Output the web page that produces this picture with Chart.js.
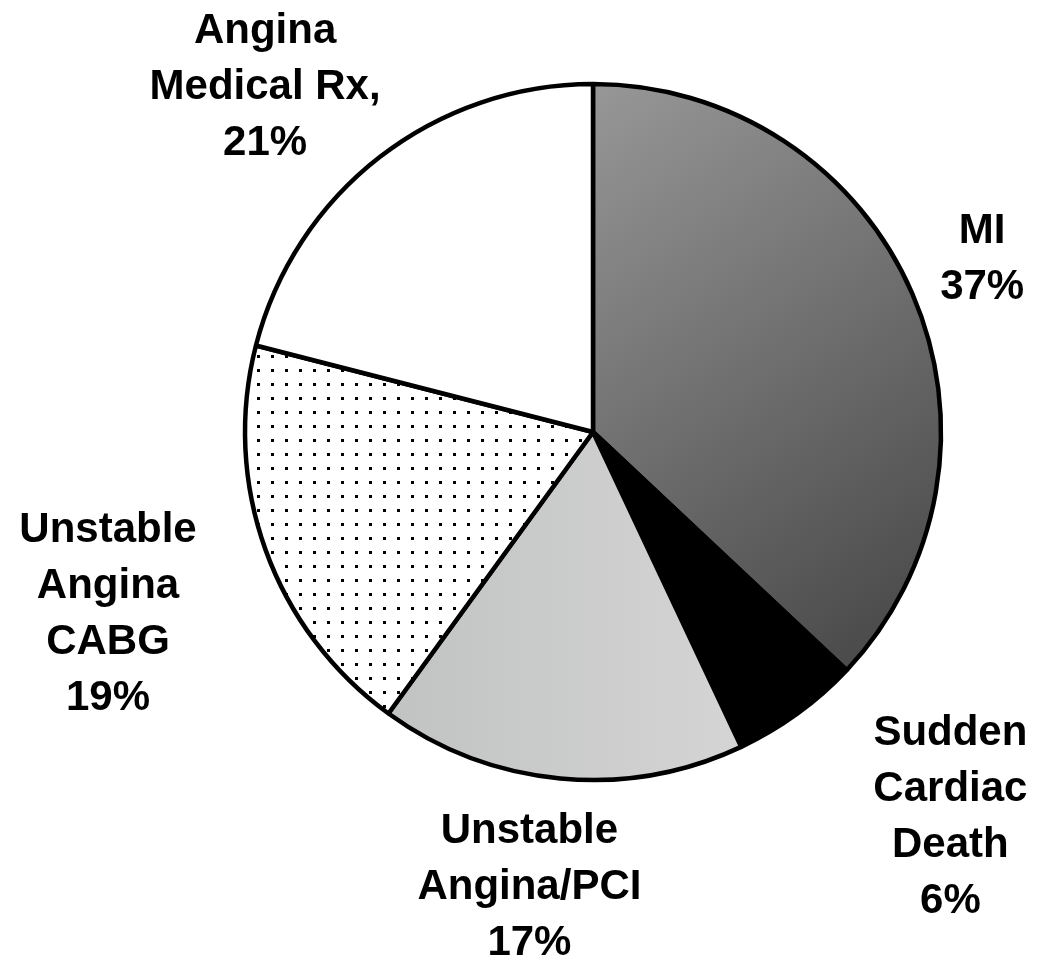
<!DOCTYPE html>
<html>
<head>
<meta charset="utf-8">
<script src="https://cdn.jsdelivr.net/npm/chart.js@4"></script>
<style>
  body { margin: 0; background: #fff; }
  #wrap { width: 1039px; height: 966px; position: relative; }
</style>
</head>
<body>
<div id="wrap"><canvas id="pie"></canvas></div>
<script>
const categories = [
    ['MI'],
    ['Sudden', 'Cardiac', 'Death'],
    ['Unstable', 'Angina/PCI'],
    ['Unstable', 'Angina', 'CABG'],
    ['Angina', 'Medical Rx,']
];
const percents = [37, 6, 17, 19, 21];

// where each label sits: distance in pie radii and angle (deg from 12 o'clock)
const labelSpots = [
    [1.227, 65.7],
    [1.503, 136.9],
    [1.313, 188],
    [1.486, 249.7],
    [1.374, 316.7]
];

// dotted fill for the CABG slice
function dotPattern() {
    const c = document.createElement('canvas');
    c.width = 14; c.height = 14;
    const g = c.getContext('2d');
    g.fillStyle = '#fff';
    g.fillRect(0, 0, 14, 14);
    g.fillStyle = '#000';
    g.fillRect(5, 5, 3, 3);
    return g.createPattern(c, 'repeat');
}

const dots = dotPattern();

function sliceFill(context) {
    const chart = context.chart;
    const area = chart.chartArea;
    if (!area) return '#999';
    const cx = (area.left + area.right) / 2;
    const cy = (area.top + area.bottom) / 2;
    const r = 348;
    const g = chart.ctx;
    switch (context.dataIndex) {
        case 0: {
            const lg = g.createLinearGradient(cx, cy - r, cx + r, cy + r * 0.45);
            lg.addColorStop(0, '#979797');
            lg.addColorStop(1, '#4c4c4c');
            return lg;
        }
        case 1:
            return '#000';
        case 2: {
            const lg = g.createLinearGradient(cx - r * 0.6, 0, cx + r * 0.45, 0);
            lg.addColorStop(0, '#c1c2c2');
            lg.addColorStop(1, '#d5d5d5');
            return lg;
        }
        case 3:
            return dots;
        default:
            return '#fff';
    }
}

const pieLabels = {
    id: 'pieLabels',
    afterDatasetsDraw(chart) {
        const g = chart.ctx;
        const arc = chart.getDatasetMeta(0).data[0];
        const cx = arc.x, cy = arc.y, r = arc.outerRadius;
        g.save();
        g.font = 'bold 42px "Liberation Sans", Arial, sans-serif';
        g.fillStyle = '#000';
        g.textAlign = 'center';
        g.textBaseline = 'alphabetic';
        categories.forEach((lines, i) => {
            const all = lines.concat([percents[i] + '%']);
            const [dist, deg] = labelSpots[i];
            const a = deg * Math.PI / 180;
            const x = cx + Math.sin(a) * r * dist;
            const y = cy - Math.cos(a) * r * dist;
            const lh = 56;
            const top = y - (all.length - 1) * lh / 2;
            all.forEach((t, k) => {
                g.fillText(t, x, top + k * lh + 15);
            });
        });
        g.restore();
    }
};

const ctx = document.getElementById('pie').getContext('2d');

const pieChart = new Chart(ctx, {
    type: 'pie',
    data: {
        labels: categories.map(l => l.join(' ')),
        datasets: [{
            data: percents,
            backgroundColor: sliceFill,
            borderColor: '#000',
            borderWidth: 4.5,
            radius: 348
        }]
    },
    options: {
        responsive: true,
        maintainAspectRatio: false,
        animation: false,
        layout: {
            padding: { left: 147, right: 0, top: 0, bottom: 102 }
        },
        plugins: {
            legend: { display: false },
            tooltip: { enabled: false }
        }
    },
    plugins: [pieLabels]
});
</script>
</body>
</html>
